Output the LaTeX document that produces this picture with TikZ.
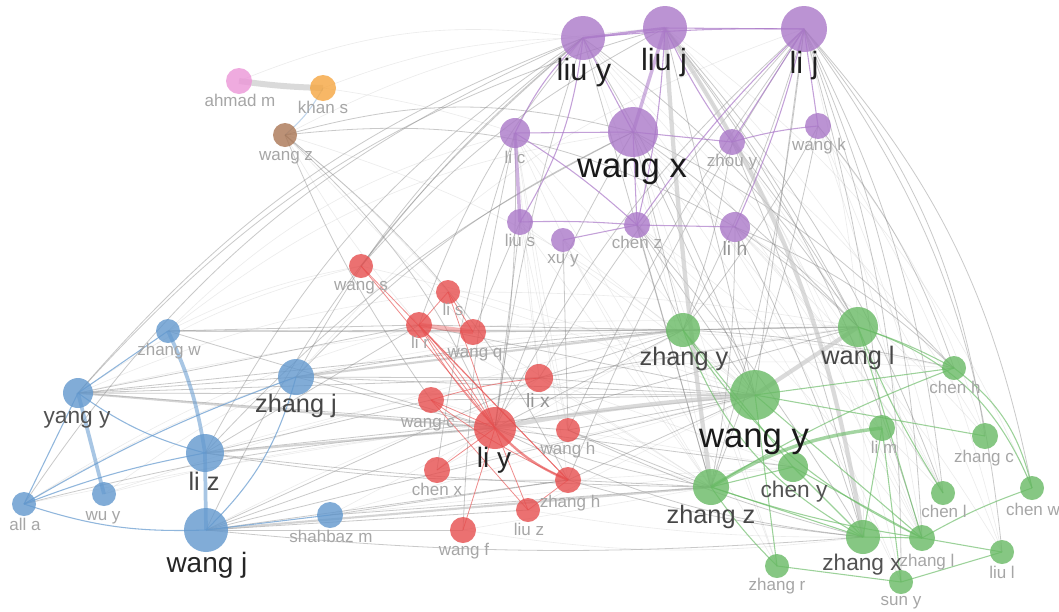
\documentclass[tikz,border=0pt]{standalone}
\usepackage{fontspec}
\setmainfont{Liberation Sans}
\usetikzlibrary{backgrounds}
\definecolor{cpur}{RGB}{170,120,200}
\definecolor{cblu}{RGB}{98,152,206}
\definecolor{cred}{RGB}{230,78,78}
\definecolor{cgrn}{RGB}{104,186,100}
\definecolor{cpnk}{RGB}{236,150,216}
\definecolor{corg}{RGB}{246,166,64}
\definecolor{cbrn}{RGB}{170,118,84}
\begin{document}
\begin{tikzpicture}[x=0.75pt,y=0.75pt,
  vn/.style={circle,inner sep=0pt,fill opacity=0.8,draw=none},
  pn/.style={vn,fill=cpur}, bn/.style={vn,fill=cblu}, rn/.style={vn,fill=cred},
  gn/.style={vn,fill=cgrn}, kn/.style={vn,fill=cpnk}, on/.style={vn,fill=corg},
  wn/.style={vn,fill=cbrn},
  lab/.style={anchor=base,inner sep=0pt},
  labA/.style={lab,font=\fontsize{26}{28}\selectfont,text=black!90},
  labB/.style={lab,font=\fontsize{23}{25}\selectfont,text=black!88},
  labC/.style={lab,font=\fontsize{21}{23}\selectfont,text=black!85},
  labD/.style={lab,font=\fontsize{19}{21}\selectfont,text=black!72},
  labE/.style={lab,font=\fontsize{17}{19}\selectfont,text=black!68},
  labF/.style={lab,font=\fontsize{14.5}{16}\selectfont,text=black!42},
  labS/.style={lab,font=\fontsize{12.75}{14}\selectfont,text=black!35},
  gf/.style={draw=black!25,line width=0.45pt,opacity=0.3},
  ge/.style={draw=black!50,line width=0.6pt,opacity=0.42},
  gm/.style={draw=black!30,line width=1.6pt,opacity=0.55},
  gk/.style={draw=black!22,line width=3.2pt,opacity=0.65},
  pe/.style={draw=cpur,line width=0.8pt,opacity=0.7},
  pk/.style={draw=cpur,line width=2.6pt,opacity=0.55},
  be/.style={draw=cblu,line width=0.8pt,opacity=0.7},
  bk/.style={draw=cblu,line width=2.8pt,opacity=0.55},
  re/.style={draw=cred,line width=0.6pt,opacity=0.65},
  rk/.style={draw=cred,line width=3.5pt,opacity=0.4},
  ne/.style={draw=cgrn,line width=0.8pt,opacity=0.65},
  nk/.style={draw=cgrn,line width=2.6pt,opacity=0.6}]
\useasboundingbox (0,0) rectangle (1059,-611);
% purple cluster
\node[pn,minimum size=33pt] (liuy) at (583,-38) {};
\node[pn,minimum size=33pt] (liuj) at (665,-28) {};
\node[pn,minimum size=34.5pt] (lij) at (804,-29) {};
\node[pn,minimum size=37.5pt] (wangx) at (633,-132) {};
\node[pn,minimum size=22.5pt] (lic) at (515,-133) {};
\node[pn,minimum size=19.5pt] (zhouy) at (732,-142) {};
\node[pn,minimum size=19.5pt] (wangk) at (818,-126) {};
\node[pn,minimum size=19.5pt] (lius) at (520,-222) {};
\node[pn,minimum size=18pt] (xuy) at (563,-240) {};
\node[pn,minimum size=19.5pt] (chenz) at (637,-225) {};
\node[pn,minimum size=22.5pt] (lih) at (735,-227) {};
% small clusters
\node[kn,minimum size=19.5pt] (ahmadm) at (239,-81) {};
\node[on,minimum size=19.5pt] (khans) at (323,-88) {};
\node[wn,minimum size=18pt] (wangz) at (285,-135) {};
% red cluster
\node[rn,minimum size=18pt] (wangs) at (361,-266) {};
\node[rn,minimum size=18pt] (lis) at (448,-292) {};
\node[rn,minimum size=19.5pt] (lir) at (419,-325) {};
\node[rn,minimum size=19.5pt] (wangq) at (473,-332) {};
\node[rn,minimum size=21pt] (lix) at (539,-378) {};
\node[rn,minimum size=19.5pt] (wangc) at (431,-400) {};
\node[rn,minimum size=31.5pt] (liy) at (495,-428) {};
\node[rn,minimum size=18pt] (wangh) at (568,-430) {};
\node[rn,minimum size=19.5pt] (chenx) at (437,-470) {};
\node[rn,minimum size=19.5pt] (zhangh) at (568,-480) {};
\node[rn,minimum size=18pt] (liuz) at (528,-510) {};
\node[rn,minimum size=19.5pt] (wangf) at (463,-530) {};
% blue cluster
\node[bn,minimum size=18pt] (zhangw) at (168,-331) {};
\node[bn,minimum size=22.5pt] (yangy) at (78,-393) {};
\node[bn,minimum size=27pt] (zhangj) at (296,-377) {};
\node[bn,minimum size=28.5pt] (liz) at (205,-453) {};
\node[bn,minimum size=18pt] (alla) at (24,-504) {};
\node[bn,minimum size=18pt] (wuy) at (104,-494) {};
\node[bn,minimum size=33pt] (wangj) at (206,-530) {};
\node[bn,minimum size=19.5pt] (shahbazm) at (330,-515) {};
% green cluster
\node[gn,minimum size=25.5pt] (zhangy) at (683,-330) {};
\node[gn,minimum size=30pt] (wangl) at (858,-327) {};
\node[gn,minimum size=37.5pt] (wangy) at (755,-395) {};
\node[gn,minimum size=18pt] (chenh) at (954,-368) {};
\node[gn,minimum size=19.5pt] (lim) at (882,-428) {};
\node[gn,minimum size=19.5pt] (zhangc) at (985,-436) {};
\node[gn,minimum size=22.5pt] (cheny) at (793,-467) {};
\node[gn,minimum size=27pt] (zhangz) at (711,-487) {};
\node[gn,minimum size=18pt] (chenl) at (943,-493) {};
\node[gn,minimum size=18pt] (chenw) at (1032,-488) {};
\node[gn,minimum size=25.5pt] (zhangx) at (863,-537) {};
\node[gn,minimum size=19.5pt] (zhangl) at (922,-538) {};
\node[gn,minimum size=18pt] (liul) at (1002,-552) {};
\node[gn,minimum size=18pt] (zhangr) at (777,-566) {};
\node[gn,minimum size=18pt] (suny) at (901,-582) {};
% labels
\node[labB] (liuy-l) at (584,-80) {liu y};
\node[labB] (liuj-l) at (664,-70) {liu j};
\node[labB] (lij-l) at (804,-73) {li j};
\node[labA] (wangx-l) at (632,-177) {wang x};
\node[labS] (lic-l) at (515,-163) {li c};
\node[labS] (zhouy-l) at (732,-166) {zhou y};
\node[labS] (wangk-l) at (819,-150) {wang k};
\node[labS] (lius-l) at (520,-246) {liu s};
\node[labS] (xuy-l) at (563,-263) {xu y};
\node[labS] (chenz-l) at (637,-248) {chen z};
\node[labF] (lih-l) at (735,-255) {li h};
\node[labS] (ahmadm-l) at (240,-106) {ahmad m};
\node[labS] (khans-l) at (323,-113) {khan s};
\node[labS] (wangz-l) at (286,-160) {wang z};
\node[labS] (wangs-l) at (361,-290) {wang s};
\node[labS] (lis-l) at (453,-315) {li s};
\node[labS] (lir-l) at (420,-348) {li r};
\node[labS] (wangq-l) at (475,-357) {wang q};
\node[labF] (lix-l) at (538,-407) {li x};
\node[labS] (wangc-l) at (428,-427) {wang c};
\node[labC] (liy-l) at (494,-467) {li y};
\node[labS] (wangh-l) at (568,-454) {wang h};
\node[labS] (chenx-l) at (437,-495) {chen x};
\node[labS] (zhangh-l) at (570,-507) {zhang h};
\node[labS] (liuz-l) at (529,-535) {liu z};
\node[labS] (wangf-l) at (464,-555) {wang f};
\node[labS] (zhangw-l) at (169,-355) {zhang w};
\node[labE] (yangy-l) at (77,-423) {yang y};
\node[labD] (zhangj-l) at (296,-412) {zhang j};
\node[labD] (liz-l) at (204,-490) {li z};
\node[labS] (alla-l) at (25,-530) {all a};
\node[labS] (wuy-l) at (103,-520) {wu y};
\node[labC] (wangj-l) at (207,-572) {wang j};
\node[labS] (shahbazm-l) at (331,-542) {shahbaz m};
\node[labD] (zhangy-l) at (684,-365) {zhang y};
\node[labD] (wangl-l) at (858,-364) {wang l};
\node[labA] (wangy-l) at (754,-447) {wang y};
\node[labS] (chenh-l) at (955,-393) {chen h};
\node[labS] (lim-l) at (884,-453) {li m};
\node[labS] (zhangc-l) at (984,-462) {zhang c};
\node[labE] (cheny-l) at (794,-497) {chen y};
\node[labD] (zhangz-l) at (711,-523) {zhang z};
\node[labS] (chenl-l) at (944,-517) {chen l};
\node[labS] (chenw-l) at (1033,-515) {chen w};
\node[labE] (zhangx-l) at (862,-570) {zhang x};
\node[labS] (zhangl-l) at (927,-566) {zhang l};
\node[labS] (liul-l) at (1002,-578) {liu l};
\node[labS] (zhangr-l) at (777,-590) {zhang r};
\node[labS] (suny-l) at (901,-605) {sun y};
% edges
\begin{scope}[on background layer]
\fill[white] (0,0) rectangle (1059,-611);
\foreach \a/\b/\c in {yangy/lis/8,yangy/wangs/10,zhangw/lic/15,zhangw/wangs/8,alla/lir/8,alla/zhangj/6,
  wuy/liy/5,wuy/zhangj/5,zhangw/wangx/15,wangj/wangl/10,zhangj/lij/15,
  zhangj/chenh/12,liz/chenh/10,yangy/wangl/8,wangs/wangy/5,lis/wangl/5,lis/wangy/0,wangq/wangl/0,
  wangc/zhangz/0,chenx/zhangy/0,chenx/wangy/0,wangf/zhangz/0,liuz/wangy/0,liuz/zhangx/-5,wangf/zhangx/-8,
  zhangh/cheny/0,wangh/cheny/0,lix/cheny/0,lix/zhangz/0,wangq/zhangz/0,lir/zhangz/0,chenx/lix/0,
  lic/zhangz/-5,lius/zhangz/0,xuy/zhangz/0,xuy/wangy/0,lius/wangy/0,lic/wangy/0,wangx/zhangz/0,
  liuy/chenl/10,liuy/zhangl/10,liuy/suny/8,liuj/suny/10,liuj/liul/12,liuj/chenw/15,lij/zhangx/8,
  wangx/chenl/8,wangx/zhangl/8,zhouy/chenl/5,zhouy/zhangl/5,wangk/zhangl/5,wangk/chenl/5,wangk/liul/10,
  lih/chenl/5,lih/liul/8,chenz/chenl/5,chenz/zhangl/5,zhouy/zhangc/10,wangk/zhangc/10,lih/zhangc/8,
  wangx/suny/5,liuy/zhangr/0,wangx/zhangr/0,lic/zhangr/0,lic/lix/0,lius/lix/0,lius/wangh/0,lic/wangh/0,
  lic/zhangh/0,wangz/lir/-5,wangz/wangq/0,wangz/lis/5,wangz/wangy/12,wangz/liuj/12,khans/liuy/10,
  khans/lic/5,ahmadm/liuy/15,shahbazm/wangy/0,shahbazm/cheny/0,shahbazm/liy/0,alla/wangy/3,wuy/zhangy/3}
  \draw[gf] (\a.center) to[bend left=\c] (\b.center);
\foreach \a/\b/\c in {yangy/liuy/14,yangy/liuj/16,liz/liuy/14,wangj/liuy/12,zhangj/liuy/12,zhangj/wangx/10,
  liz/wangx/10,alla/liuy/16,wangz/liy/12,wangz/zhangh/12,wangz/wangc/-6,wangz/lih/18,wangz/wangx/15,
  liy/liuy/5,lir/liuy/10,wangs/liuj/10,wangs/liuy/6,chenx/lic/5,wangf/lic/5,liy/lic/-5,liy/lius/0,
  liy/lij/10,liy/wangx/5,lix/lij/5,wangh/lij/5,zhangh/lij/5,liuy/wangl/10,liuy/wangy/5,
  liuy/zhangz/0,liuj/wangl/5,liuj/chenl/10,liuj/zhangl/10,liuj/wangy/0,lij/chenw/15,lij/liul/15,
  lij/zhangl/10,lij/suny/10,lij/chenl/10,lij/zhangc/15,zhangy/lij/-5,zhangz/lij/-5,wangy/lij/0,lij/lim/5,
  wangx/wangy/0,wangx/zhangy/0,wangx/wangl/5,wangx/chenh/10,zhouy/zhangx/5,zhangy/zhouy/-5,zhouy/wangl/5,
  zhangy/wangk/-5,zhangz/wangk/-5,wangk/chenh/10,chenz/zhangy/0,chenz/wangy/0,chenz/zhangz/0,
  chenz/zhangx/5,lih/zhangx/5,lih/wangl/5,zhangz/lih/-5,lih/chenh/10,xuy/wangh/0,wangq/lius/0,
  zhangj/liy/0,zhangj/wangy/0,zhangj/lix/0,zhangj/wangl/5,yangy/zhangj/0,yangy/lix/0,yangy/wangh/0,
  yangy/zhangy/0,yangy/wangy/0,yangy/lir/0,liz/zhangh/-5,liz/wangy/0,liz/lir/0,liz/wangc/0,liz/zhangz/-3,
  wangj/zhangh/0,wangj/liy/0,wangj/liuz/0,wangj/wangf/0,wangj/lix/0,wangj/wangy/0,wangj/zhangx/-5,
  zhangw/lir/0,zhangw/wangq/0,zhangw/liy/0,zhangw/zhangy/0,liy/zhangy/0,liy/wangl/0,liy/zhangx/-10,
  liy/cheny/0,liy/zhangz/-5,lix/wangl/0,lix/zhangy/0,lix/wangy/0,wangh/wangy/0,wangh/zhangz/0,
  wangh/zhangx/-5,zhangh/zhangz/0,zhangh/zhangx/-5,zhangh/wangy/0,shahbazm/zhangz/0,shahbazm/zhangh/0,
  alla/liy/5,wangq/zhangy/0,lir/wangy/0,lir/zhangy/0,wangc/wangy/0,zhangy/wangl/0,zhangy/chenh/5}
  \draw[ge] (\a.center) to[bend left=\c] (\b.center);
\foreach \a/\b/\c in {liz/liy/0,yangy/liy/0,wangj/zhangz/0,zhangj/zhangy/0}
  \draw[gm] (\a.center) to[bend left=\c] (\b.center);
\foreach \a/\b/\c in {liuj/zhangz/-2,liuj/zhangx/12,liy/wangy/3,wangy/wangl/0}
  \draw[gk] (\a.center) to[bend left=\c] (\b.center);
\draw[gk,line width=4.5pt] (ahmadm.center) to[bend left=-3] (khans.center);
\draw[be,opacity=0.4] (wangz.center) to[bend left=-10] (khans.center);
% purple
\foreach \a/\b/\c in {wangx/liuj/0,lic/lius/0}
  \draw[pk] (\a.center) to[bend left=\c] (\b.center);
\draw[pe,line width=1.8pt] (liuy.center) -- (liuj.center);
\foreach \a/\b/\c in {liuj/lij/0,liuy/lij/3,liuy/wangx/0,lic/wangx/0,lic/liuy/10,lius/liuy/-12,
  xuy/chenz/0,chenz/lih/0,wangx/chenz/0,zhouy/liuj/5,lij/wangk/0,zhouy/wangk/5,zhouy/lij/0,lih/lij/-5,
  chenz/lij/5,lic/chenz/5,liuj/chenz/5,wangx/zhouy/0,lius/chenz/3}
  \draw[pe] (\a.center) to[bend left=\c] (\b.center);
% blue
\foreach \a/\b/\c in {zhangw/liz/8,yangy/wuy/0,liz/wangj/0}
  \draw[bk] (\a.center) to[bend left=\c] (\b.center);
\foreach \a/\b/\c in {wangj/zhangj/-15,yangy/liz/-10,alla/wangj/-10,alla/zhangj/5,alla/liz/5,alla/yangy/0,
  wangj/shahbazm/0,yangy/zhangw/0}
  \draw[be] (\a.center) to[bend left=\c] (\b.center);
% red
\draw[rk] (lir.center) -- (wangq.center);
\draw[re,line width=1.8pt] (liy.center) to[bend left=-12] (zhangh.center);
\foreach \a/\b/\c in {lir/liy/0,lir/liy/6,lir/liy/-6,wangs/liy/0,wangs/zhangh/0,lir/zhangh/0,wangc/lix/5,
  wangc/liy/0,liy/liuz/0,liuz/zhangh/0,wangf/liy/0,lis/liy/0,wangc/zhangh/-5,chenx/liy/0,lis/wangq/0,
  lir/lis/0,wangc/liuz/0}
  \draw[re] (\a.center) to[bend left=\c] (\b.center);
% green
\draw[nk] (zhangz.center) to[bend left=12] (lim.center);
\foreach \a/\b/\c in {zhangz/cheny/0,wangl/chenh/5,wangl/chenl/-5,wangl/zhangl/0,zhangy/zhangx/-20,
  zhangz/chenh/5,wangy/zhangl/0,zhangz/zhangl/-5,zhangx/zhangl/0,zhangl/liul/0,zhangl/chenw/5,
  suny/liul/0,zhangr/suny/0,wangl/chenw/25,chenh/chenw/20,wangy/chenh/0,wangy/zhangc/0,suny/lim/0,
  zhangx/lim/0,zhangz/zhangr/-5,zhangy/cheny/0,cheny/zhangl/0,zhangy/zhangl/-15,cheny/zhangx/0,
  zhangz/zhangx/0,zhangr/wangy/0}
  \draw[ne] (\a.center) to[bend left=\c] (\b.center);
\end{scope}
\end{tikzpicture}
\end{document}
